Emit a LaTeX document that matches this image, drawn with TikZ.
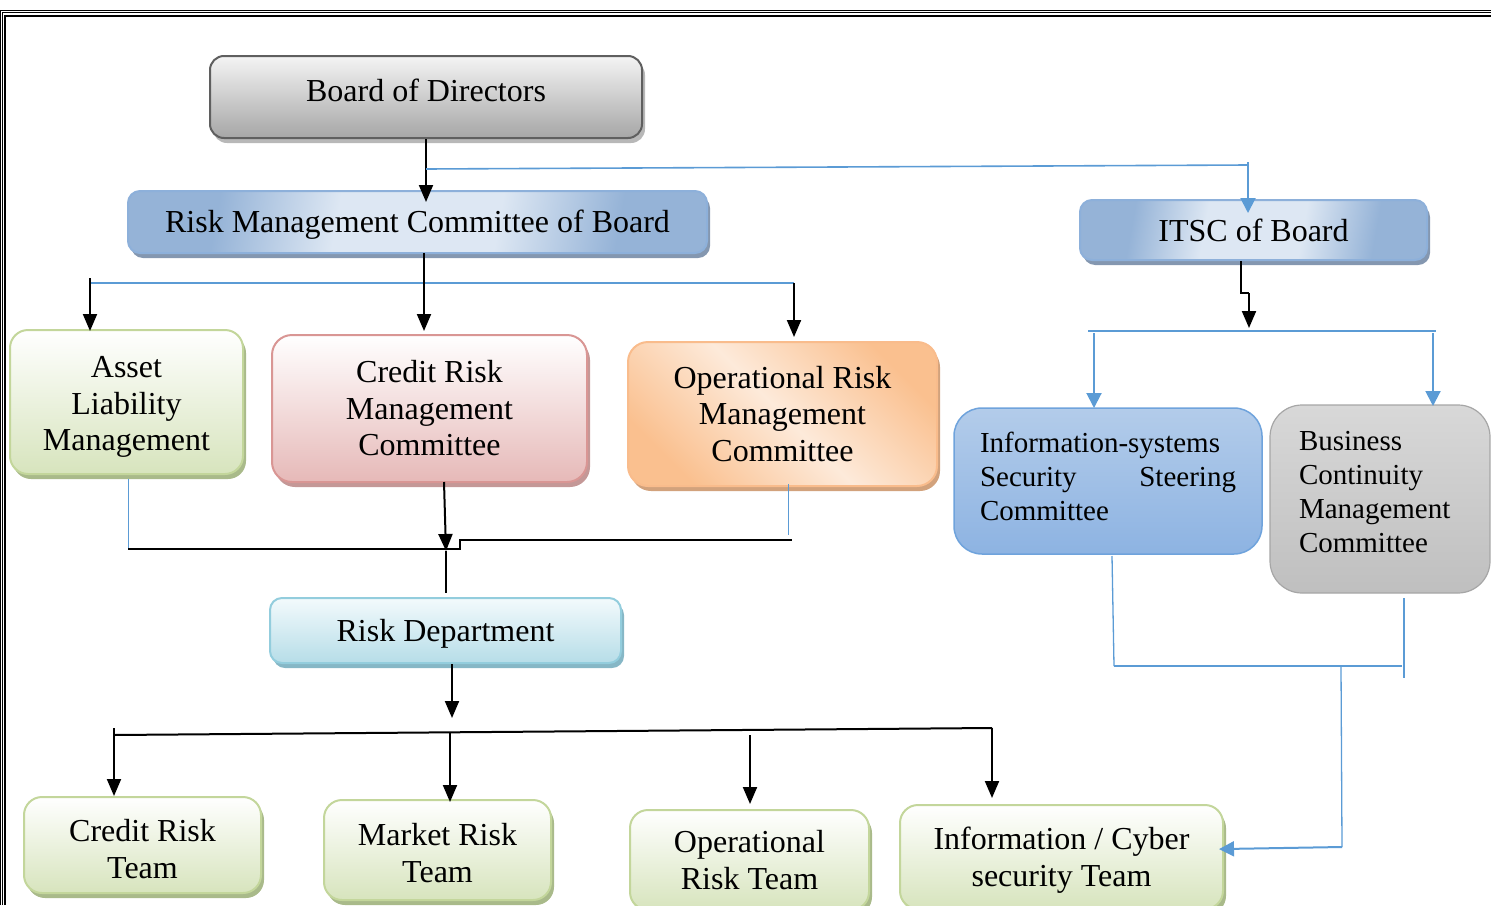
\documentclass[tikz,border=0pt]{standalone}
\usepackage{fontspec}
\setmainfont{Liberation Serif}
\usetikzlibrary{arrows.meta,shadows,calc}
\definecolor{lblue}{HTML}{5B9BD5}
\definecolor{bodTop}{HTML}{F4F4F4}
\definecolor{bodBot}{HTML}{A6A6A6}
\definecolor{bodBd}{HTML}{5F5F5F}
\definecolor{rmcEdge}{HTML}{95B3D7}
\definecolor{rmcMid}{HTML}{DDE7F3}
\definecolor{rmcBd}{HTML}{8DB0DA}
\definecolor{rmcSh}{HTML}{8497B0}
\definecolor{grnBot}{HTML}{D7E4BD}
\definecolor{grnBd}{HTML}{C3D69B}
\definecolor{grnSh}{HTML}{A9BA8A}
\definecolor{pnkBot}{HTML}{E6B9B8}
\definecolor{pnkBd}{HTML}{D99694}
\definecolor{pnkSh}{HTML}{C49897}
\definecolor{orgA}{HTML}{FAC08F}
\definecolor{orgB}{HTML}{FDEADA}
\definecolor{orgBd}{HTML}{F9BC8C}
\definecolor{orgSh}{HTML}{D2A27C}
\definecolor{isTop}{HTML}{B3CCEA}
\definecolor{isBot}{HTML}{8DB3E2}
\definecolor{isBd}{HTML}{6FA3DC}
\definecolor{bcTop}{HTML}{D8D8D8}
\definecolor{bcBot}{HTML}{BFBFBF}
\definecolor{bcBd}{HTML}{A6A6A6}
\definecolor{rdTop}{HTML}{F3FAFC}
\definecolor{rdBot}{HTML}{B6DDE8}
\definecolor{rdBd}{HTML}{93CDDD}
\definecolor{rdSh}{HTML}{86B7C6}
\pgfdeclarehorizontalshading{rmcshade}{100bp}{color(0bp)=(rmcEdge); color(30bp)=(rmcEdge);
  color(42bp)=(rmcMid); color(58bp)=(rmcMid); color(70bp)=(rmcEdge); color(100bp)=(rmcEdge)}
\tikzset{
  orgbox/.style={draw, rounded corners=#1, line width=2pt, inner sep=0pt},
  txt/.style={align=center, inner sep=0pt, font=\fontsize{32}{36.5}\selectfont},
  txtl/.style={align=left, inner sep=0pt, font=\fontsize{29}{34}\selectfont},
  shad/.style={drop shadow={shadow xshift=3pt, shadow yshift=-5pt, opacity=1, fill=#1}},
  grnbox/.style={orgbox=18pt, draw=grnBd, top color=white, bottom color=grnBot, shad=grnSh},
  bluebox/.style={orgbox=12pt, draw=rmcBd, shade, shading=rmcshade, shading angle=170, shad=rmcSh},
  blk/.style={line width=2pt, -{Triangle[length=17pt,width=14pt]}},
  blkl/.style={line width=2pt},
  blu/.style={draw=lblue, line width=1.3pt},
  bluarr/.style={draw=lblue, line width=2pt, -{Triangle[length=15pt,width=15pt]}},
}
\begin{document}
\begin{tikzpicture}[x=1pt,y=-1pt]
\useasboundingbox (0,0) rectangle (1491,905);
% frame
\draw[line width=1pt] (0.5,905) -- (0.5,10.5) -- (1491,10.5);
\draw[line width=1pt] (2.5,905) -- (2.5,12.5) -- (1491,12.5);
\draw[line width=2pt] (5,905) -- (5,15.5) -- (1491,15.5);

% boxes
\node[orgbox=14pt, draw=bodBd, top color=bodTop, bottom color=bodBot, shad=bodBot!80!white,
  minimum width=432pt, minimum height=82pt] (bod) at (426,97) {};
\node[bluebox, minimum width=579pt, minimum height=62pt] (rmc) at (417.5,222) {};
\node[bluebox, minimum width=347pt, minimum height=60pt] (itsc) at (1253.5,230) {};
\node[grnbox, minimum width=233pt, minimum height=144pt] (alm) at (126.5,402) {};
\node[orgbox=20pt, draw=pnkBd, top color=white, bottom color=pnkBot, shad=pnkSh,
  minimum width=315pt, minimum height=147pt] (crmc) at (429.5,408.5) {};
\node[orgbox=20pt, draw=orgBd, left color=orgA, right color=orgA, middle color=orgB, shading angle=135,
  shad=orgSh, minimum width=309pt, minimum height=144pt] (ormc) at (782.5,414) {};
\node[orgbox=28pt, line width=1.5pt, draw=isBd, top color=isTop, bottom color=isBot,
  minimum width=308pt, minimum height=146pt] (issc) at (1108,481) {};
\node[orgbox=32pt, line width=1.2pt, draw=bcBd, top color=bcTop, bottom color=bcBot,
  minimum width=220pt, minimum height=188pt] (bcm) at (1380,499) {};
\node[orgbox=12pt, draw=rdBd, top color=rdTop, bottom color=rdBot, shad=rdSh,
  minimum width=351pt, minimum height=65pt] (rd) at (445.5,630.5) {};
\node[grnbox, minimum width=237pt, minimum height=96pt] (crt) at (142.5,845) {};
\node[grnbox, minimum width=227pt, minimum height=100pt] (mrt) at (437.5,850) {};
\node[grnbox, minimum width=239pt, minimum height=100pt] (ort) at (749.5,860) {};
\node[grnbox, minimum width=323pt, minimum height=104pt] (ict) at (1061.5,857) {};

% texts
\node[txt] (bodT) at ([yshift=7pt]bod.center) {Board of Directors};
\node[txt] (rmcT) at ([yshift=-3pt]rmc.center) {Risk Management Committee of Board};
\node[txt] (itscT) at (itsc.center) {ITSC of Board};
\node[txt] (almT) at ([yshift=-5pt]alm.center) {Asset\\Liability\\Management};
\node[txt] (crmcT) at (crmc.center) {Credit Risk\\Management\\Committee};
\node[txt] (ormcT) at (ormc.center) {Operational Risk\\Management\\Committee};
\node[txtl, text width=256pt] (isscT) at ([yshift=5pt]issc.center) {Information-systems\\Security\hfill Steering\\Committee};
\node[txtl, text width=162pt] (bcmT) at ([yshift=7pt]bcm.center) {Business\\Continuity\\Management\\Committee};
\node[txt] (rdT) at ([yshift=-3pt]rd.center) {Risk Department};
\node[txt] (crtT) at ([yshift=-4pt]crt.center) {Credit Risk\\Team};
\node[txt] (mrtT) at ([yshift=-3pt]mrt.center) {Market Risk\\Team};
\node[txt] (ortT) at (ort.center) {Operational\\Risk Team};
\node[txt] (ictT) at ([yshift=-3pt]ict.center) {Information / Cyber\\security Team};

% Board -> RMC and ITSC
\coordinate (j1) at (426,169);
\coordinate (jit) at (1248,165);
\draw[blk, shorten >=-12pt] (bod.south) -- (bod.south |- rmc.north);
\draw[blu, line width=1.6pt] (j1) -- (jit);
\draw[bluarr, shorten >=-14pt] ([yshift=3pt]jit) -- (jit |- itsc.north);

% RMC -> committees
\coordinate (h1l) at (90,283);
\coordinate (h1r) at (794,283);
\coordinate (c1) at (424,253);
\draw[blu] (h1l) -- (h1r);
\draw[blk, shorten >=-2pt] ([yshift=5pt]h1l) -- (h1l |- alm.north);
\draw[blk, shorten >=3pt] (c1) -- (c1 |- crmc.north);
\draw[blk, shorten >=4pt] (h1r) -- (h1r |- ormc.north);

% ITSC -> sub committees
\coordinate (k1) at (1241,293);
\coordinate (h2l) at (1088,331);
\coordinate (h2r) at (1436,331);
\draw[blkl] (itsc.south -| k1) -- (k1) -- ++(8,0) coordinate (k2);
\draw[blk] (k2) -- ++(0,35);
\draw[blu] (h2l) -- (h2r);
\draw[bluarr] (1094,333) -- (1094,408) coordinate (a1);
\draw[bluarr] (1433,333) -- (1433,406) coordinate (a2);

% committees -> Risk Department
\coordinate (m1) at (128,549);
\coordinate (m2) at (460,549);
\coordinate (m3) at (792,540);
\coordinate (c2) at (444,482);
\coordinate (c3) at (446,551);
\draw[blu, line width=1pt] ([yshift=-4pt]alm.south -| m1) -- (m1);
\draw[blkl] (m1) -- (m2) -- (m2 |- m3) -- (m3);
\draw[blu, line width=1pt] (788,484) -- (788,535);
\draw[blk] (c2) -- (c3);
\draw[line width=1.5pt] (c3) -- ([yshift=4pt]rd.north -| c3);

% Risk Department -> teams
\coordinate (r1) at (452,664);
\coordinate (tl) at (114,735);
\coordinate (tr) at (992,728);
\coordinate (t1) at (114,728);
\coordinate (t2) at (450,733);
\coordinate (t3) at (750,735);
\draw[blk] (r1) -- (452,718);
\draw[blkl] (tl) -- (tr);
\draw[blk] (t1) -- (t1 |- crt.north);
\draw[blk, shorten >=-3pt] (t2) -- (t2 |- mrt.north);
\draw[blk, shorten >=5pt] (t3) -- (t3 |- ort.north);
\draw[blk, shorten >=6pt] (tr) -- (tr |- ict.north);

% IT committees -> cyber team
\coordinate (p1) at (1114,666);
\coordinate (p2) at (1402,666);
\coordinate (p3) at (1341,667);
\coordinate (p4) at (1342,847);
\coordinate (p5) at (0,849);
\draw[blu] (1112,556) -- (p1);
\draw[blu] (p1) -- (p2);
\draw[blu] (1404,598) -- (1404,678);
\draw[blu] (p3) -- (p4);
\draw[bluarr, shorten >=-5pt] (p4) -- (ict.east |- p5);
\end{tikzpicture}
\end{document}
